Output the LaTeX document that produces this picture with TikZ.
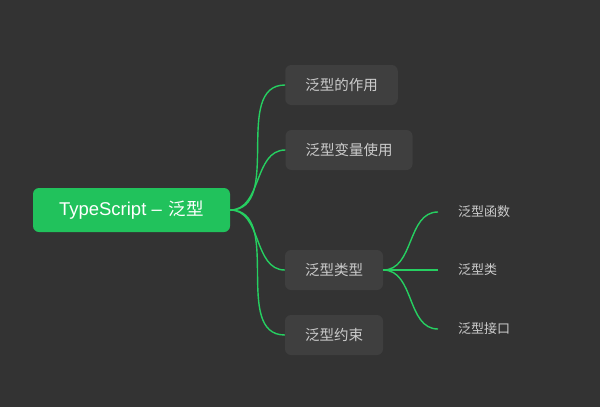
\documentclass[tikz,border=0pt]{standalone}
\usepackage{fontspec}
\setmainfont{Noto Sans CJK SC}
\newfontfamily\latinfont{Liberation Sans}
\usepackage{tikz}
\usetikzlibrary{positioning,backgrounds}
\definecolor{mmbg}{HTML}{333333}
\definecolor{mmbox}{HTML}{3F3F3F}
\definecolor{mmtext}{HTML}{CCCCCC}
\definecolor{mmgreen}{HTML}{21C25C}
\definecolor{mmline}{HTML}{26CF61}
\tikzset{
  rootnode/.style={rounded corners=6pt,fill=mmgreen,text=white,minimum width=197pt,minimum height=44pt,inner sep=0pt,font=\fontsize{17.5}{20}\selectfont},
  topicnode/.style={rounded corners=6pt,fill=mmbox,text=mmtext,minimum height=40pt,inner xsep=20pt,inner ysep=0pt,font=\fontsize{14.5}{17}\selectfont},
  leafnode/.style={text=mmtext,inner xsep=20pt,inner ysep=2pt,anchor=west,font=\fontsize{13}{15}\selectfont},
  branch/.style={draw=mmline,line width=1.4pt,out=0,in=180},
}

\begin{document}
\begin{tikzpicture}[x=1pt,y=-1pt]
  \fill[mmbg] (0,0) rectangle (600,407);
  \useasboundingbox (0,0) rectangle (600,407);
  \node[rootnode] (nRoot) at (131.5,210) {{\latinfont\fontsize{18.5}{20}\selectfont TypeScript – }\hspace{2pt}泛型};
  \node[topicnode] (nUse) at (341.5,85) {泛型的作用};
  \node[topicnode] (nVar) at (349,150) {泛型变量使用};
  \node[topicnode] (nKind) at (334,270) {泛型类型};
  \node[topicnode] (nBound) at (334,335) {泛型约束};
  \node[leafnode] (nFunc) at (438,212) {泛型函数};
  \node[leafnode] (nClass) at (438,270) {泛型类};
  \node[leafnode] (nIface) at (438,329) {泛型接口};
  \draw[branch] (nRoot.east) to (nUse.west);
  \draw[branch] (nRoot.east) to (nVar.west);
  \draw[branch] (nRoot.east) to (nKind.west);
  \draw[branch] (nRoot.east) to (nBound.west);
  \draw[branch] (nKind.east) to (nFunc.west);
  \draw[branch] (nKind.east) to (nClass.west);
  \draw[branch] (nKind.east) to (nIface.west);
\end{tikzpicture}
\end{document}
